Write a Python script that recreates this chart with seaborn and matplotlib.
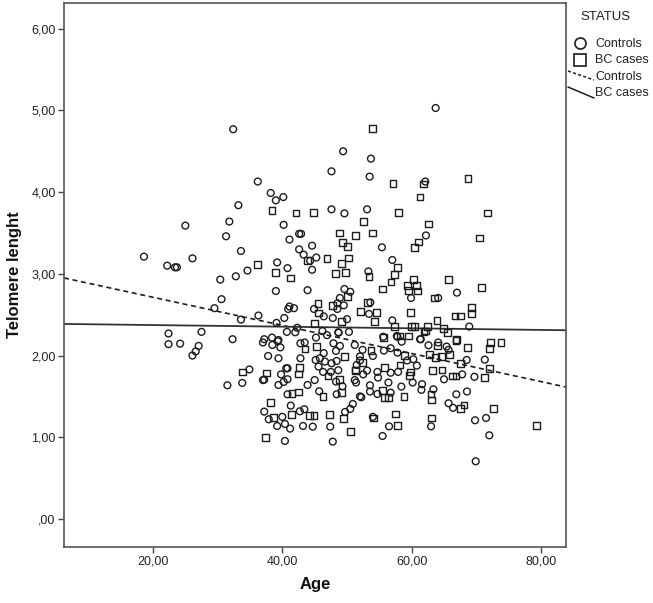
import matplotlib
matplotlib.use("Agg")
import matplotlib.pyplot as plt
from matplotlib.lines import Line2D
import pandas as pd
import seaborn as sns

ctrl_age = [32.4,36.2,38.2,39.0,40.15,33.2,31.8,25.0,40.2,31.3,42.6,42.9,41.1,33.6,42.6,43.3,18.6,26.1,22.2,23.4,23.7,34.6,39.2,40.8,32.8,30.4,39.0,43.9,30.6,29.5,41.1,40.9,41.8,36.3,40.3,33.6,39.1,42.3,40.7,42.0,22.4,27.5,32.3,37.2,38.4,39.4,44.6,44.6,
 63.7,49.4,53.7,47.6,53.5,62.1,47.6,49.6,53.1,62.2,55.4,45.25,44.3,57.0,53.3,67.0,49.6,50.5,48.9,59.9,64.1,53.6,48.5,49.5,48.5,44.9,46.4,47.8,53.4,50.0,57.0,68.9,46.2,48.7,50.3,45.2,46.9,61.4,57.8,
 22.4,24.2,27.06,26.6,26.1,37.0,39.3,38.45,39.7,42.8,43.45,37.8,39.4,42.8,34.9,33.8,31.5,37.0,37.2,40.6,40.8,39.8,40.8,40.2,39.4,43.9,45.0,40.8,45.7,41.3,37.2,37.9,39.2,40.0,40.4,41.2,42.7,43.4,43.2,44.7,47.4,40.4,47.8,50.9,50.5,49.7,49.3,48.4,48.3,48.4,47.6,46.4,45.8,45.15,46.6,45.6,46.3,47.5,48.65,47.9,48.9,48.3,51.2,48.65,51.2,52.0,52.0,
 52.0,52.4,54.0,55.7,56.75,57.8,51.5,53.1,52.5,54.7,54.8,56.75,57.9,51.4,53.55,53.55,56.4,58.4,60.15,54.7,56.75,52.2,60.8,60.25,59.3,61.6,61.5,63.35,65.0,67.8,69.7,68.5,71.3,61.3,62.6,64.1,65.4,65.7,66.9,68.55,65.7,66.4,54.0,56.5,55.5,63.0,69.8,71.5,72.0,69.9,57.7,58.45,55.6]
ctrl_len = [4.77,4.13,3.99,3.90,3.94,3.84,3.64,3.59,3.60,3.46,3.49,3.49,3.42,3.28,3.30,3.235,3.21,3.19,3.10,3.08,3.08,3.04,3.14,3.07,2.97,2.93,2.79,2.80,2.69,2.58,2.60,2.57,2.58,2.49,2.46,2.44,2.40,2.34,2.29,2.285,2.27,2.29,2.20,2.20,2.22,2.19,3.345,3.05,
 5.03,4.50,4.41,4.255,4.19,4.13,3.79,3.74,3.79,3.47,3.325,3.20,3.16,3.17,3.03,2.77,2.815,2.78,2.705,2.705,2.705,2.65,2.64,2.615,2.57,2.57,2.48,2.46,2.51,2.445,2.43,2.355,2.30,2.28,2.29,2.22,2.25,2.20,2.23,
 2.14,2.146,2.118,2.05,2.00,2.16,2.175,2.13,2.10,2.15,2.16,1.995,1.967,1.967,1.83,1.665,1.636,1.70,1.705,1.844,1.844,1.77,1.71,1.677,1.64,1.64,1.70,1.526,1.563,1.387,1.314,1.22,1.138,1.25,1.163,1.106,1.318,1.343,1.138,1.13,1.13,0.955,0.947,1.408,1.347,1.31,1.624,1.526,1.681,1.934,1.906,2.03,1.967,1.946,1.926,1.865,1.80,1.80,1.82,2.15,2.118,2.057,2.13,2.285,1.70,1.50,1.99,
 1.94,2.07,1.995,2.06,2.09,2.036,1.885,1.816,1.77,1.80,1.73,1.79,1.80,1.67,1.636,1.56,1.67,1.62,1.67,1.53,1.546,1.49,1.877,1.955,1.94,1.65,1.58,1.587,1.71,1.77,1.74,1.946,1.95,2.20,2.126,2.16,2.11,2.07,1.526,1.56,1.416,1.36,1.25,1.134,1.016,1.134,1.208,1.236,1.024,0.706,2.24,2.17,2.23]

case_age = [38.4,42.1,36.1,38.9,41.2,43.9,44.8,
 54.0,57.1,61.8,68.7,61.3,58.0,71.7,52.5,62.6,48.9,51.3,53.9,70.5,49.3,50.1,61.0,60.4,46.9,50.2,49.2,57.8,49.8,48.2,53.4,57.3,56.8,60.3,65.7,70.8,59.4,60.7,55.5,59.5,60.9,50.1,63.5,53.2,45.5,47.7,45.6,52.1,54.6,59.8,69.3,69.3,66.7,67.6,54.3,49.2,45.0,57.3,60.0,60.4,63.9,62.5,64.9,65.5,61.9,55.7,58.2,59.5,66.9,
 33.8,37.5,42.5,42.7,43.5,45.3,49.6,51.3,47.05,48.9,49.2,46.3,41.5,42.5,38.2,41.4,38.65,44.2,44.9,47.3,49.4,50.6,37.4,
 62.1,66.85,68.6,72.2,73.8,72.05,64.0,62.7,63.7,64.6,65.8,58.9,58.2,52.4,53.7,55.8,51.3,59.8,59.6,63.2,64.7,66.3,66.85,67.6,72.0,71.2,55.5,55.8,56.4,58.8,63.0,63.1,68.1,67.6,72.6,57.5,54.1,57.8,63.1,79.3]
case_len = [3.78,3.745,3.11,3.02,2.95,3.16,3.75,
 4.78,4.11,4.10,4.165,3.94,3.755,3.745,3.64,3.61,3.50,3.47,3.50,3.44,3.38,3.33,3.39,3.325,3.19,3.195,3.13,3.08,3.02,3.00,2.97,2.99,2.90,2.93,2.93,2.835,2.86,2.855,2.815,2.795,2.79,2.725,2.705,2.65,2.635,2.61,2.52,2.54,2.525,2.525,2.59,2.51,2.485,2.485,2.415,2.415,2.395,2.36,2.36,2.36,2.43,2.36,2.33,2.285,2.29,2.22,2.24,2.24,2.20,
 1.80,1.787,1.775,1.857,2.08,2.11,1.987,1.824,1.75,1.71,1.547,1.50,1.538,1.555,1.428,1.277,1.245,1.265,1.265,1.277,1.228,1.069,1.0,
 2.30,2.18,2.10,2.16,2.16,2.09,2.12,2.016,1.98,1.987,2.016,2.0,1.885,1.92,2.06,1.857,1.82,1.80,1.755,1.816,1.824,1.75,1.75,1.906,1.844,1.734,1.57,1.485,1.49,1.50,1.53,1.457,1.395,1.355,1.355,1.285,1.236,1.143,1.236,1.143]

line_age = [6.24, 83.86]
ctrl_line = [2.95, 1.615]
case_line = [2.387, 2.31]
y_ticks = [0, 1, 2, 3, 4, 5, 6]
y_labels = [",00", "1,00", "2,00", "3,00", "4,00", "5,00", "6,00"]
x_ticks = [20, 40, 60, 80]
x_labels = ["20,00", "40,00", "60,00", "80,00"]

assert len(ctrl_age) == len(ctrl_len), (len(ctrl_age), len(ctrl_len))
assert len(case_age) == len(case_len), (len(case_age), len(case_len))

df = pd.DataFrame({
    "Age": ctrl_age + case_age,
    "Telomere": ctrl_len + case_len,
    "STATUS": ["Controls"] * len(ctrl_age) + ["BC cases"] * len(case_age),
})

sns.set_style("white")
plt.rcParams["font.family"] = ["Liberation Sans", "DejaVu Sans"]
INK = "#1c1c1c"
W, H = 653, 603
fig = plt.figure(figsize=(W / 100, H / 100), dpi=100, facecolor="white")
L, R, T, B = 64, 566, 3, 547
ax = fig.add_axes([L / W, 1 - B / H, (R - L) / W, (B - T) / H])

sns.scatterplot(data=df, x="Age", y="Telomere", style="STATUS",
                markers={"Controls": "o", "BC cases": "s"},
                s=24, fc="none", ec=INK, linewidth=1.0, legend=False, ax=ax, zorder=3)
sns.lineplot(x=line_age, y=ctrl_line, color=INK, lw=1.2, ls=(0, (3, 2.2)), ax=ax, zorder=2)
sns.lineplot(x=line_age, y=case_line, color="#333333", lw=1.3, ax=ax, zorder=2)

ax.set_xlim(6.24, 83.86)
ax.set_ylim(-0.343, 6.315)
ax.set_xticks(x_ticks, x_labels)
ax.set_yticks(y_ticks, y_labels)
ax.tick_params(axis="both", length=4, width=1, color="#444444", labelsize=9, labelcolor="#222222",
               bottom=True, left=True, pad=2)
for s in ax.spines.values():
    s.set_color("#555555")
    s.set_linewidth(1.2)
ax.set_xlabel("Age", fontsize=12, fontweight="bold", color="#111111", labelpad=7)
ax.set_ylabel("Telomere lenght", fontsize=12, fontweight="bold", color="#111111", labelpad=7)

def fx(px): return px / W
def fy(py): return 1 - py / H

fig.text(fx(580), fy(17), "STATUS", fontsize=9.5, color="#222222", va="center")
fig.text(fx(595), fy(44), "Controls", fontsize=9, color="#222222", va="center")
fig.text(fx(595), fy(60), "BC cases", fontsize=9, color="#222222", va="center")
fig.text(fx(595), fy(77), "Controls", fontsize=9, color="#222222", va="center")
fig.text(fx(595), fy(93), "BC cases", fontsize=9, color="#222222", va="center")
fig.add_artist(Line2D([fx(580)], [fy(43)], marker="o", ms=8, mfc="none", mec=INK, mew=1.2, ls="none", transform=fig.transFigure))
fig.add_artist(Line2D([fx(580)], [fy(60)], marker="s", ms=8, mfc="none", mec=INK, mew=1.2, ls="none", transform=fig.transFigure))
fig.add_artist(Line2D([fx(568), fx(594)], [fy(71), fy(80)], color=INK, lw=1.1, ls=(0, (2, 1.5)), transform=fig.transFigure))
fig.add_artist(Line2D([fx(568), fx(594)], [fy(87), fy(98)], color=INK, lw=1.1, transform=fig.transFigure))

fig.savefig("out.png", dpi=100)
